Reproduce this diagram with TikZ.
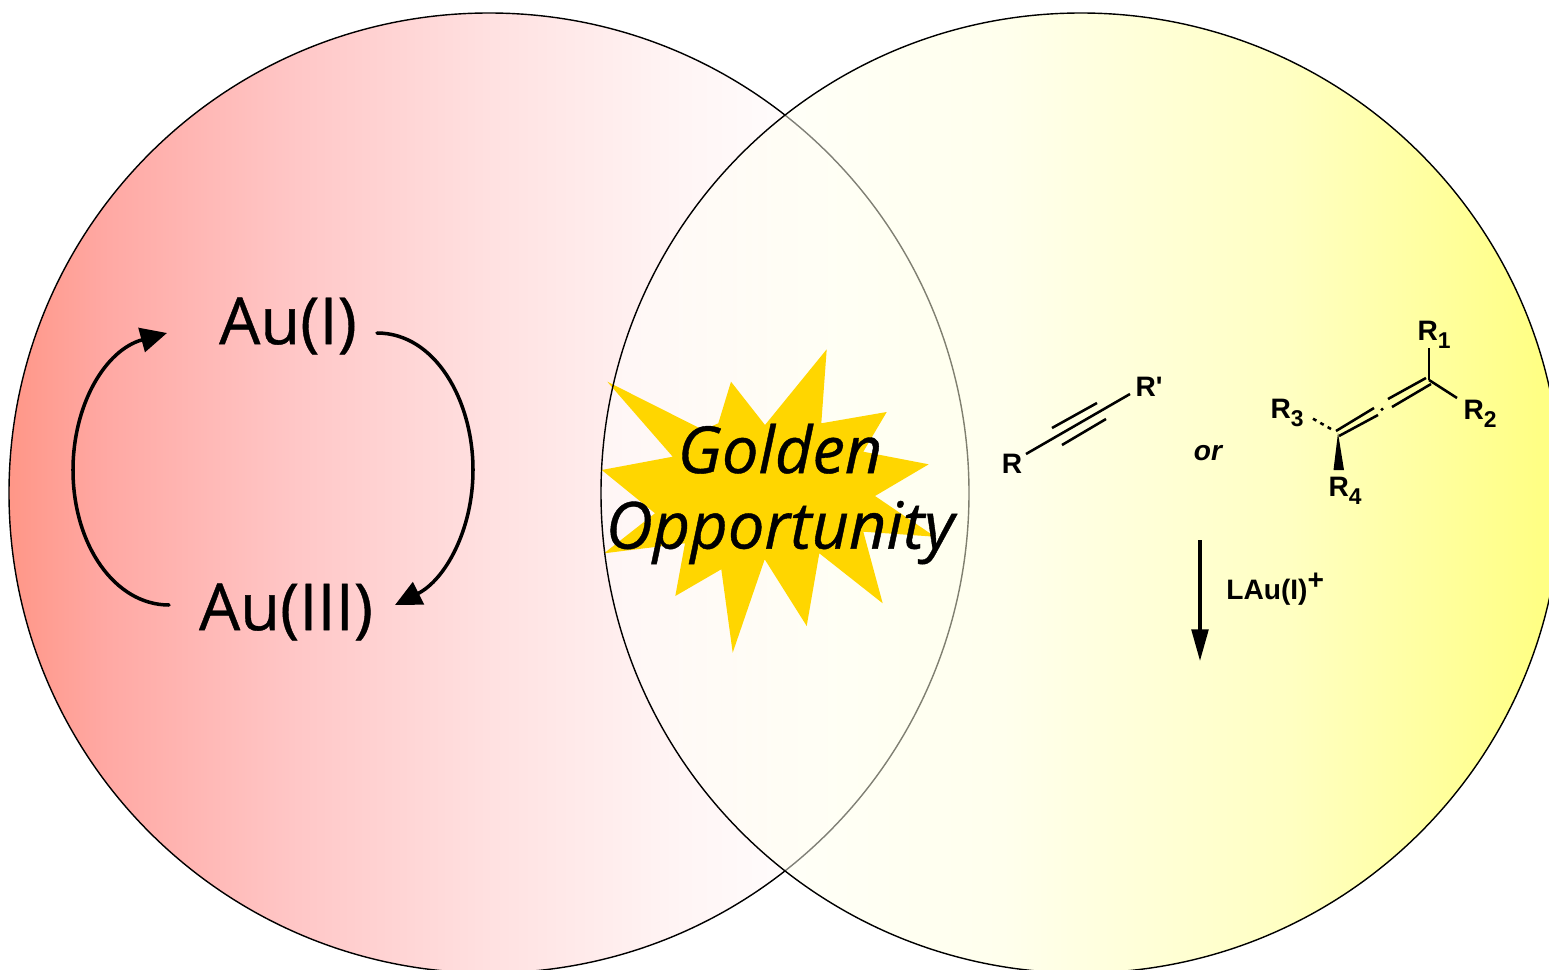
\documentclass[tikz,border=0pt]{standalone}
\usepackage{fontspec}
\setmainfont[RawFeature={embolden=0.6}]{Open Sans}
\newfontfamily\chemfont{Liberation Sans}
\usetikzlibrary{arrows.meta}
\definecolor{StarGold}{RGB}{255, 214, 0}
% stops run from 25bp to 75bp across the circle
\pgfdeclarehorizontalshading{RedFade}{100bp}{
  rgb(0bp)=(1,0.59,0.53);
  rgb(25bp)=(1,0.59,0.53);
  rgb(30bp)=(1,0.66,0.64);
  rgb(40bp)=(1,0.78,0.78);
  rgb(50bp)=(1,0.88,0.88);
  rgb(60bp)=(1,0.96,0.96);
  rgb(68bp)=(1,1,1);
  rgb(100bp)=(1,1,1)}
\pgfdeclarehorizontalshading{YellowFade}{100bp}{
  rgb(0bp)=(1,1,1);
  rgb(25bp)=(1,1,1);
  rgb(35bp)=(1,1,0.94);
  rgb(46bp)=(1,1,0.86);
  rgb(61bp)=(1,1,0.52);
  rgb(75bp)=(1,1,0);
  rgb(100bp)=(1,1,0)}
\tikzset{
  % Gold labels and cycle labels
  goldtext/.style={font=\fontsize{37}{43}\selectfont, inner sep=0pt, align=center},
  bursttext/.style={font=\fontsize{37}{43}\selectfont\itshape, inner sep=0pt, align=center},
  % Chemistry labels
  chemlabel/.style={font=\chemfont\bfseries\fontsize{16}{16}\selectfont, inner sep=0pt},
  chembond/.style={line width=1.45pt},
  % Cycle arrows
  cyclearrow/.style={-{Triangle[length=15pt, width=14pt]}, line width=2pt, line cap=round},
  reactarrow/.style={-{Triangle[length=18pt, width=9.5pt]}, line width=1.9pt}
}
\newcommand{\Sub}[1]{\raisebox{-0.55ex}{\fontsize{13}{13}\selectfont #1}}
\begin{document}
\begin{tikzpicture}[x=0.02cm, y=-0.02cm]

  \useasboundingbox (0,0) rectangle (1549,970);
  \clip (0,0) rectangle (1549,970);

  % -- Circles --
  \coordinate (redc) at (489,493);
  \coordinate (yelc) at (1081,493);
  \shade[shading=RedFade] (redc) circle [radius=480];
  \draw[line width=0.8pt] (redc) circle [radius=480];
  \shade[shading=YellowFade, opacity=0.5] (yelc) circle [radius=480];

  % -- Star burst --
  \fill[StarGold] (826.7,349.3) -- (821.3,423.3) -- (886.7,412) -- (863.3,451.7)
    -- (928.7,464.3) -- (875,496) -- (935,536.7) -- (863.3,531.7) -- (882.7,603.3)
    -- (819.3,553.3) -- (806.7,626) -- (764.7,559.3) -- (732.7,652.7) -- (721.3,569.3)
    -- (675.3,596) -- (685,543.3) -- (604,553.3) -- (655,513.3) -- (601.7,470)
    -- (672.7,456.7) -- (607.3,381.7) -- (703.3,430) -- (718.3,423.3) -- (731,381.7)
    -- (765,425) -- cycle;
  \draw[line width=0.8pt] (yelc) circle [radius=480];
  \node[bursttext] (burst) at (780,494) {Golden\\Opportunity};

  % -- Gold cycle --
  \node[goldtext] (aui) at (288,326) {Au(I)};
  \node[goldtext] (auiii) at (286,612) {Au(III)};
  \coordinate (auiout) at (377,333);
  \coordinate (auiiiin) at (395,605);
  \coordinate (auiiiout) at (169,605);
  \coordinate (auiin) at (167,333);
  \draw[cyclearrow] (auiout) .. controls (435,333) and (473,400) .. (473,470)
    .. controls (473,530) and (445,580) .. (auiiiin);
  \draw[cyclearrow] (auiiiout) .. controls (115,605) and (73,545) .. (73,470)
    .. controls (73,405) and (105,350) .. (auiin);

  % -- Alkyne --
  \node[chemlabel] (rleft) at (1012,464) {R};
  \node[chemlabel] (rprime) at (1149,387) {R'};
  \coordinate (alka) at (1026,454);
  \coordinate (alkb) at (1130,394);
  \coordinate (upa) at (1052,428);
  \coordinate (upb) at (1097,403);
  \coordinate (loa) at (1062,445);
  \coordinate (lob) at (1106,419);
  \draw[chembond] (alka) -- (alkb);
  \draw[chembond] (upa) -- (upb);
  \draw[chembond] (loa) -- (lob);

  \node[chemlabel, font=\chemfont\bfseries\itshape\fontsize{16}{16}\selectfont] (orword) at (1208,453) {or};

  % -- Allene --
  \node[chemlabel] (rone) at (1434,335) {R\Sub{1}};
  \node[chemlabel] (rtwo) at (1480,414) {R\Sub{2}};
  \node[chemlabel] (rthree) at (1287,413) {R\Sub{3}};
  \node[chemlabel] (rfour) at (1345,491) {R\Sub{4}};
  \coordinate (cleft) at (1338,433);
  \coordinate (cright) at (1429,380);
  \coordinate (bondone) at (1429,348);
  \coordinate (bondtwo) at (1457,398);
  \coordinate (hasha) at (1331,429);
  \coordinate (hashb) at (1310,417);
  \coordinate (wedgea) at (1333.5,470);
  \coordinate (wedgeb) at (1344,470);
  \coordinate (dbla) at (1336,431);
  \coordinate (dblb) at (1374,408);
  \coordinate (dblc) at (1339,436);
  \coordinate (dbld) at (1378,415);
  \coordinate (dble) at (1388,399);
  \coordinate (dblf) at (1426,378);
  \coordinate (dblg) at (1392,407);
  \coordinate (dblh) at (1431,384);
  \draw[chembond] (cright) -- (bondone);
  \draw[chembond] (cright) -- (bondtwo);
  \draw[chembond] (dbla) -- (dblb);
  \draw[chembond] (dblc) -- (dbld);
  \draw[chembond] (dble) -- (dblf);
  \draw[chembond] (dblg) -- (dblh);
  \draw[chembond, dash pattern=on 2.2pt off 2.6pt] (hasha) -- (hashb);
  \fill (cleft) -- (wedgeb) -- (wedgea) -- cycle;
  \fill (1382,409.3) circle [radius=1.8];

  % -- Reaction arrow --
  \coordinate (reacta) at (1200,540);
  \coordinate (reactb) at (1200,661);
  \draw[reactarrow] (reacta) -- (reactb);
  \node[chemlabel, anchor=west] (laulabel) at (1226,589) {LAu(I)\raisebox{0.7ex}{+}};

\end{tikzpicture}
\end{document}
